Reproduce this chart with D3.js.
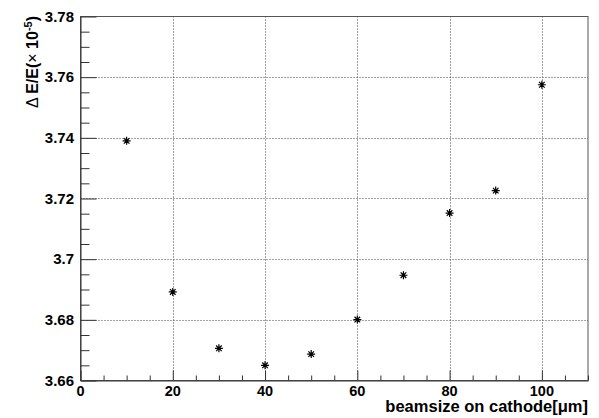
<!DOCTYPE html>
<html>
<head>
<meta charset="utf-8">
<script src="https://cdn.jsdelivr.net/npm/d3@7"></script>
<style>
  body { margin: 0; background: #fff; }
  svg { display: block; font-family: "Liberation Sans", Arial, sans-serif; font-weight: bold; }
</style>
</head>
<body>
<svg width="599" height="418"></svg>
<script>
// beamsize on cathode [um] and energy spread (x 1e-5)
var beamsize = [10, 20, 30, 40, 50, 60, 70, 80, 90, 100]
var spread = [3.7390, 3.6892, 3.6706, 3.6650, 3.6687, 3.6801, 3.6947, 3.7152, 3.7226, 3.7575]
var xTicks = [0, 20, 40, 60, 80, 100]
var yTicks = [3.66, 3.68, 3.70, 3.72, 3.74, 3.76, 3.78]
var yTickLabels = ["3.66", "3.68", "3.7", "3.72", "3.74", "3.76", "3.78"]

var svg = d3.select("svg")
var padL = 80.5, padR = 588, padT = 16.5, padB = 380.5

var x = d3.scaleLinear().domain([0, 110]).range([padL, padR])
var y = d3.scaleLinear().domain([3.66, 3.78]).range([padB, padT])

// grid
var grid = svg.append("g")
  .attr("stroke", "#444")
  .attr("stroke-width", 1)
  .attr("stroke-dasharray", "1,2")
grid.selectAll(".gx")
  .data(xTicks.filter(d => d > 0))
  .enter().append("line")
  .attr("x1", d => Math.round(x(d)) + 0.5).attr("x2", d => Math.round(x(d)) + 0.5)
  .attr("y1", padT).attr("y2", padB)
grid.selectAll(".gy")
  .data(yTicks.filter(d => d > 3.661 && d < 3.779))
  .enter().append("line")
  .attr("y1", d => Math.round(y(d)) + 0.5).attr("y2", d => Math.round(y(d)) + 0.5)
  .attr("x1", padL).attr("x2", padR)

// frame
svg.append("rect")
  .attr("x", padL).attr("y", padT)
  .attr("width", padR - padL).attr("height", padB - padT)
  .attr("fill", "none").attr("stroke", "#555").attr("stroke-width", 1)

// x axis
var xAxis = d3.axisBottom(x)
  .tickValues(d3.range(0, 111, 5))
  .tickSize(0)
  .tickFormat("")
var gx = svg.append("g").attr("transform", "translate(0," + padB + ")").call(xAxis)
gx.select(".domain").attr("stroke", "#333")
gx.selectAll(".tick line")
  .attr("stroke", "#333")
  .attr("y2", d => d % 20 === 0 ? -10 : -5)
svg.append("g").selectAll("text")
  .data(xTicks)
  .enter().append("text")
  .attr("x", d => x(d))
  .attr("y", 396)
  .attr("text-anchor", "middle")
  .attr("font-size", 14.5)
  .text(d => d)

// y axis
var yAxis = d3.axisLeft(y)
  .tickValues(d3.range(0, 25).map(i => 3.66 + i * 0.005))
  .tickSize(0)
  .tickFormat("")
var gy = svg.append("g").attr("transform", "translate(" + padL + ",0)").call(yAxis)
gy.select(".domain").attr("stroke", "#333")
gy.selectAll(".tick line")
  .attr("stroke", "#333")
  .attr("x2", (d, i) => i % 4 === 0 ? 16 : 9)
svg.append("g").selectAll("text")
  .data(yTicks)
  .enter().append("text")
  .attr("x", 74)
  .attr("y", d => y(d) + 5)
  .attr("text-anchor", "end")
  .attr("font-size", 15)
  .text((d, i) => yTickLabels[i])

// axis titles
svg.append("text")
  .attr("x", padR).attr("y", 412)
  .attr("text-anchor", "end")
  .attr("font-size", 16.5)
  .text("beamsize on cathode[\u03bcm]")

var yt = svg.append("text")
  .attr("transform", "translate(38,16) rotate(-90)")
  .attr("text-anchor", "end")
  .attr("font-size", 16)
yt.append("tspan").attr("font-weight", "normal").text("\u0394 ")
yt.append("tspan").text("E/E(")
yt.append("tspan").attr("font-weight", "normal").text("\u00d7 ")
yt.append("tspan").text("10")
yt.append("tspan").attr("font-size", 11).attr("dy", -6).text("-5")
yt.append("tspan").attr("dy", 6).text(")")

// markers (asterisk)
var r = 4
var pts = svg.append("g").attr("stroke", "#000").attr("stroke-width", 1.2)
  .selectAll("g")
  .data(beamsize.map((d, i) => [d, spread[i]]))
  .enter().append("g")
  .attr("transform", d => "translate(" + x(d[0]) + "," + y(d[1]) + ")")
pts.append("path")
  .attr("d", "M" + (-r) + ",0H" + r + "M0," + (-r) + "V" + r +
    "M" + (-r * 0.7) + "," + (-r * 0.7) + "L" + (r * 0.7) + "," + (r * 0.7) +
    "M" + (-r * 0.7) + "," + (r * 0.7) + "L" + (r * 0.7) + "," + (-r * 0.7))
</script>
</body>
</html>
